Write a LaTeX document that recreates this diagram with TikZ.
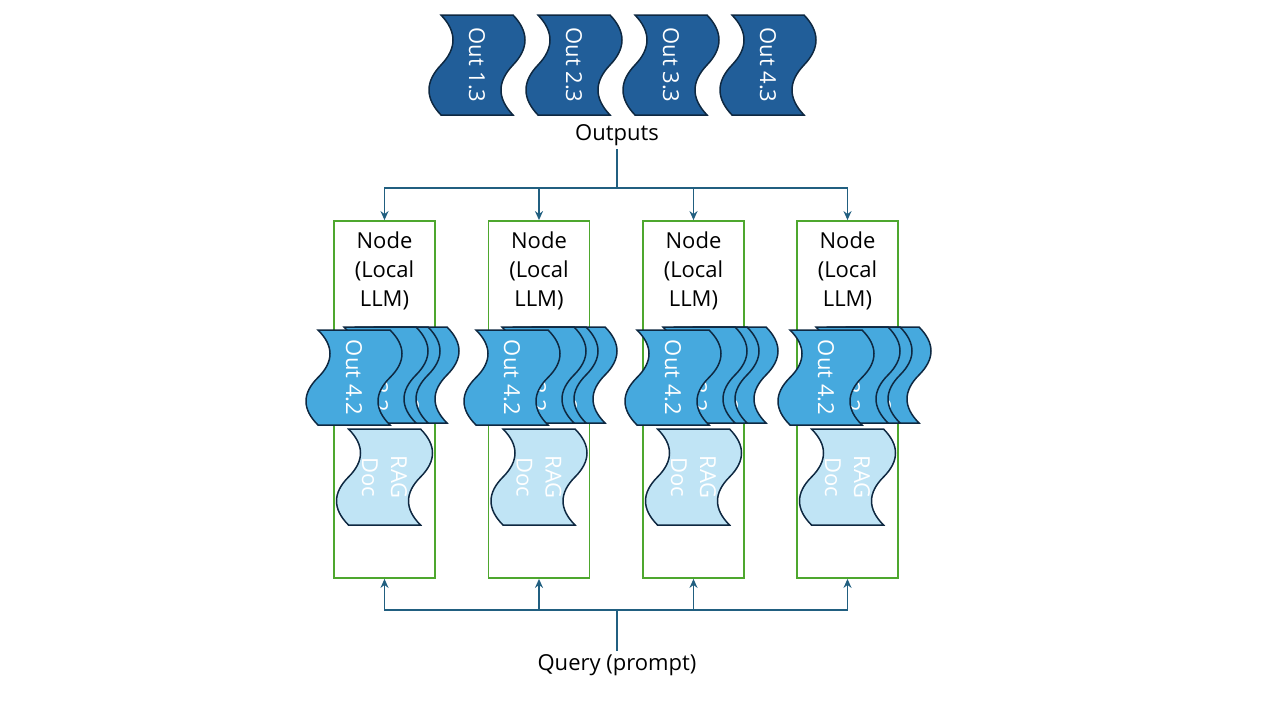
\documentclass[tikz,border=0pt]{standalone}
\usepackage{fontspec}
\setmainfont{Open Sans}
\usetikzlibrary{arrows.meta,positioning}

\definecolor{outdark}{HTML}{215E99}
\definecolor{outmid}{HTML}{46A9DE}
\definecolor{raglight}{HTML}{C0E4F5}
\definecolor{edgenavy}{HTML}{0E2841}
\definecolor{boxgreen}{HTML}{4EA72E}
\definecolor{linkblue}{HTML}{215F80}

% rotated punched tape: name, left x, top y, height, style, text
\newcommand{\tape}[6]{%
  \draw[#5] (#2,#3) -- (#2+72,#3)
    .. controls (#2+88,#3+#4/6) and (#2+88,#3+#4/3) .. (#2+72,#3+#4/2)
    .. controls (#2+56,#3+#4*2/3) and (#2+56,#3+#4*5/6) .. (#2+72,#3+#4)
    -- (#2,#3+#4)
    .. controls (#2-16,#3+#4*5/6) and (#2-16,#3+#4*2/3) .. (#2,#3+#4/2)
    .. controls (#2+16,#3+#4/3) and (#2+16,#3+#4/6) .. (#2,#3) -- cycle;
  \node[tapetext] (#1) at (#2+36,#3+#4/2) {#6};}

\begin{document}
\begin{tikzpicture}[
x=1pt, y=-1pt,
nodebox/.style={draw=boxgreen,line width=1.8pt,minimum width=101pt,minimum height=357pt,inner sep=0pt},
nodelabel/.style={align=center,inner sep=0pt,font=\fontsize{22}{29}\selectfont},
lbl/.style={inner sep=3pt,font=\fontsize{22}{29}\selectfont},
tapetext/.style={rotate=-90,text=white,align=center,inner sep=0pt,font=\fontsize{22}{29}\selectfont},
outtape/.style={fill=outdark,draw=edgenavy,line width=1.5pt},
stacktape/.style={fill=outmid,draw=edgenavy,line width=1.5pt},
ragtape/.style={fill=raglight,draw=edgenavy,line width=1.5pt},
link/.style={draw=linkblue,line width=1.6pt},
tip/.style={-{Stealth[length=9pt,width=8pt]}}
]
\useasboundingbox (0,0) rectangle (1280,720);

% outputs on top
\foreach \i/\c in {1/441,2/538,3/635,4/732}
  \tape{o\i}{\c}{15}{100}{outtape}{Out \i.3};
\node[lbl] (outlbl) at (617,135) {Outputs};

% local nodes
\foreach \i/\x in {1/384.5,2/539,3/693.5,4/847.5} {
  \node[nodebox] (n\i) at (\x,399.5) {};
  \node[nodelabel, below=11pt of n\i.north] (l\i) {Node\\(Local\\LLM)};
  \tape{rag\i}{\x-36}{429}{96}{ragtape}{RAG\\Doc};
}

% stacked outputs in each node
\foreach \i/\c in {1/318,2/476,3/637,4/790} {
  \tape{s\i d}{\c+57}{327}{96}{stacktape}{Out 1.2};
  \tape{s\i c}{\c+38}{327}{96}{stacktape}{Out 2.2};
  \tape{s\i b}{\c+26}{327}{96}{stacktape}{Out 3.2};
  \tape{s\i a}{\c}{330}{95}{stacktape}{Out 4.2};
}

% connectors
\coordinate (split) at (617,188);
\draw[link] (outlbl.south) -- (split);
\foreach \i in {1,...,4}
  \draw[link,tip] (split) -| (n\i.north);

\node[lbl] (qlbl) at (617,665) {Query (prompt)};
\coordinate (merge) at (617,610);
\draw[link] (qlbl.north) -- (merge);
\foreach \i in {1,...,4}
  \draw[link,tip] (merge) -| (n\i.south);

\end{tikzpicture}
\end{document}
